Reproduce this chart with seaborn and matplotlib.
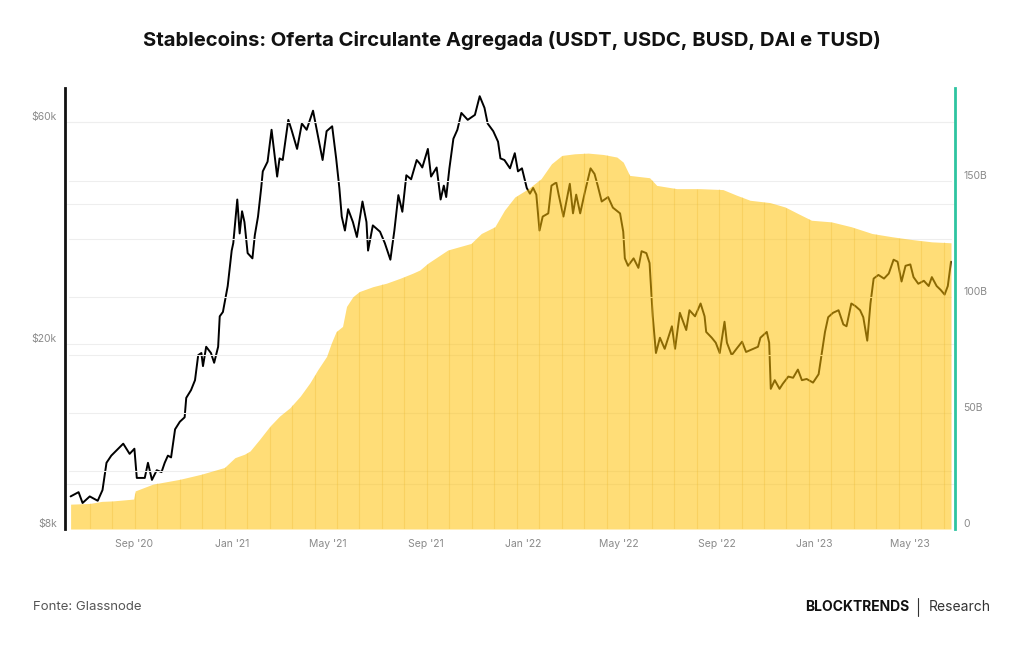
import pandas as pd
import numpy as np
import matplotlib
matplotlib.use('Agg')
import matplotlib.pyplot as plt
import matplotlib.dates as mdates
from matplotlib.ticker import FixedLocator, NullLocator, NullFormatter
import seaborn as sns

# BTC price (thousand USD)
price_dates = [
    '2020-06-13', '2020-06-23', '2020-06-28', '2020-07-07', '2020-07-17', '2020-07-23', '2020-07-28',
    '2020-08-03', '2020-08-18', '2020-08-26', '2020-09-01', '2020-09-04', '2020-09-14', '2020-09-18',
    '2020-09-23', '2020-09-29', '2020-10-05', '2020-10-09', '2020-10-13', '2020-10-17', '2020-10-22',
    '2020-10-28', '2020-11-03', '2020-11-05', '2020-11-11', '2020-11-16', '2020-11-20', '2020-11-24',
    '2020-11-26', '2020-11-30', '2020-12-06', '2020-12-10', '2020-12-15', '2020-12-17', '2020-12-21',
    '2020-12-27', '2021-01-01', '2021-01-03', '2021-01-08', '2021-01-11', '2021-01-14', '2021-01-17',
    '2021-01-21', '2021-01-27', '2021-01-30', '2021-02-03', '2021-02-07', '2021-02-09', '2021-02-15',
    '2021-02-20', '2021-02-27', '2021-03-02', '2021-03-06', '2021-03-13', '2021-03-17', '2021-03-24',
    '2021-03-30', '2021-04-05', '2021-04-13', '2021-04-18', '2021-04-25', '2021-04-30', '2021-05-07',
    '2021-05-12', '2021-05-16', '2021-05-19', '2021-05-23', '2021-05-27', '2021-06-02', '2021-06-07',
    '2021-06-14', '2021-06-19', '2021-06-21', '2021-06-27', '2021-07-06', '2021-07-12', '2021-07-19',
    '2021-07-24', '2021-07-29', '2021-08-03', '2021-08-08', '2021-08-14', '2021-08-21', '2021-08-25',
    '2021-08-28', '2021-09-04', '2021-09-08', '2021-09-15', '2021-09-20', '2021-09-24', '2021-09-27',
    '2021-10-01', '2021-10-06', '2021-10-11', '2021-10-16', '2021-10-24', '2021-11-02', '2021-11-08',
    '2021-11-14', '2021-11-18', '2021-11-25', '2021-12-01', '2021-12-04', '2021-12-09', '2021-12-16',
    '2021-12-22', '2021-12-26', '2021-12-31', '2022-01-06', '2022-01-10', '2022-01-14', '2022-01-18',
    '2022-01-22', '2022-01-26', '2022-02-02', '2022-02-06', '2022-02-12', '2022-02-15', '2022-02-21',
    '2022-03-01', '2022-03-05', '2022-03-09', '2022-03-14', '2022-03-20', '2022-03-27', '2022-04-01',
    '2022-04-05', '2022-04-10', '2022-04-18', '2022-04-24', '2022-05-03', '2022-05-07', '2022-05-09',
    '2022-05-13', '2022-05-20', '2022-05-26', '2022-05-30', '2022-06-05', '2022-06-09', '2022-06-13',
    '2022-06-17', '2022-06-22', '2022-06-28', '2022-07-07', '2022-07-11', '2022-07-17', '2022-07-25',
    '2022-07-29', '2022-08-05', '2022-08-12', '2022-08-17', '2022-08-19', '2022-08-26', '2022-08-31',
    '2022-09-05', '2022-09-11', '2022-09-14', '2022-09-20', '2022-09-26', '2022-10-03', '2022-10-08',
    '2022-10-17', '2022-10-23', '2022-10-26', '2022-11-03', '2022-11-06', '2022-11-08', '2022-11-13',
    '2022-11-19', '2022-11-23', '2022-11-30', '2022-12-06', '2022-12-12', '2022-12-17', '2022-12-23',
    '2022-12-31', '2023-01-07', '2023-01-11', '2023-01-15', '2023-01-19', '2023-01-25', '2023-02-01',
    '2023-02-07', '2023-02-11', '2023-02-17', '2023-02-22', '2023-02-28', '2023-03-04', '2023-03-09',
    '2023-03-13', '2023-03-17', '2023-03-23', '2023-03-30', '2023-04-05', '2023-04-11', '2023-04-16',
    '2023-04-21', '2023-04-26', '2023-05-02', '2023-05-06', '2023-05-12', '2023-05-19', '2023-05-25',
    '2023-05-29', '2023-06-04', '2023-06-09', '2023-06-14', '2023-06-18', '2023-06-22',
]
price_k = [
    9.4, 9.6, 9.1, 9.4, 9.2, 9.7, 11.1,
    11.5, 12.2, 11.6, 11.9, 10.3, 10.3, 11.1,
    10.2, 10.7, 10.6, 11.1, 11.5, 11.4, 13.1,
    13.6, 13.9, 15.3, 15.9, 16.7, 18.9, 19.1,
    17.9, 19.7, 19.1, 18.2, 19.7, 22.9, 23.4,
    26.6, 31.7, 32.9, 40.8, 34.5, 38.5, 36.5,
    31.3, 30.5, 34.2, 37.5, 43.2, 46.9, 49.2,
    57.6, 45.7, 50.0, 49.6, 60.5, 57.6, 52.4,
    59.4, 57.6, 63.3, 57.2, 49.6, 57.2, 58.6,
    50.0, 43.2, 37.5, 35.0, 38.9, 36.5, 33.9,
    40.4, 36.5, 31.7, 35.9, 34.8, 32.9, 30.3,
    35.0, 41.7, 38.4, 46.0, 45.1, 49.6, 48.7,
    47.8, 52.4, 45.7, 47.8, 40.8, 43.7, 41.3,
    47.6, 55.1, 57.6, 62.6, 60.5, 62.0, 68.0,
    64.2, 59.4, 57.2, 54.3, 50.0, 49.6, 47.6,
    51.3, 46.9, 47.6, 43.2, 42.0, 43.2, 41.8,
    35.0, 37.5, 38.1, 43.7, 44.4, 41.8, 37.5,
    44.1, 38.1, 41.8, 38.1, 42.4, 47.6, 46.3,
    43.7, 40.4, 41.3, 39.2, 38.1, 34.8, 30.5,
    29.4, 30.5, 29.1, 31.6, 31.3, 29.8, 22.9,
    19.1, 20.6, 19.5, 21.8, 19.5, 23.3, 21.4,
    23.6, 22.9, 24.4, 22.9, 21.2, 20.6, 20.1,
    19.1, 22.3, 20.1, 18.9, 19.5, 20.2, 19.2,
    19.5, 19.7, 20.6, 21.2, 20.1, 16.0, 16.7,
    16.0, 16.4, 17.0, 16.9, 17.6, 16.7, 16.8,
    16.5, 17.2, 19.1, 21.2, 22.8, 23.3, 23.6,
    22.0, 21.8, 24.4, 24.1, 23.6, 22.8, 20.3,
    24.4, 27.6, 28.1, 27.6, 28.3, 30.3, 30.0,
    27.2, 29.4, 29.6, 27.8, 26.9, 27.3, 26.6,
    27.8, 26.6, 26.1, 25.5, 26.6, 30.0,
]

# aggregated stablecoin supply (billion USD)
supply_dates = [
    '2020-06-13', '2020-07-07', '2020-07-22', '2020-08-05', '2020-08-31', '2020-09-02', '2020-09-24',
    '2020-10-28', '2020-11-24', '2020-12-23', '2021-01-05', '2021-01-17', '2021-01-24', '2021-02-05',
    '2021-02-18', '2021-03-02', '2021-03-15', '2021-03-28', '2021-04-09', '2021-04-19', '2021-04-30',
    '2021-05-06', '2021-05-12', '2021-05-20', '2021-05-25', '2021-06-02', '2021-06-10', '2021-06-27',
    '2021-07-14', '2021-07-31', '2021-08-16', '2021-08-25', '2021-09-04', '2021-09-29', '2021-10-28',
    '2021-11-10', '2021-11-27', '2021-12-09', '2021-12-22', '2022-01-08', '2022-01-24', '2022-02-06',
    '2022-02-19', '2022-03-07', '2022-03-24', '2022-04-12', '2022-04-29', '2022-05-07', '2022-05-15',
    '2022-06-09', '2022-06-18', '2022-07-13', '2022-08-11', '2022-09-09', '2022-09-26', '2022-10-13',
    '2022-11-07', '2022-11-26', '2022-12-12', '2022-12-29', '2023-01-23', '2023-02-17', '2023-03-15',
    '2023-04-09', '2023-05-04', '2023-05-29', '2023-06-22',
]
supply_b = [
    10.7, 11.0, 11.9, 12.1, 12.9, 16.4, 19.3,
    21.4, 23.6, 26.5, 30.7, 32.2, 33.6, 38.6,
    44.3, 48.6, 52.2, 57.2, 62.9, 68.6, 74.3,
    80.1, 85.0, 87.2, 95.8, 100.0, 102.2, 104.3,
    105.8, 107.9, 110.1, 111.5, 114.4, 120.1, 122.9,
    127.2, 130.1, 137.2, 142.9, 146.5, 150.8, 157.2,
    160.8, 161.5, 161.8, 161.2, 160.1, 157.9, 152.2,
    151.2, 147.9, 146.5, 146.5, 146.1, 143.7, 141.5,
    140.5, 138.6, 135.8, 132.9, 132.2, 130.1, 127.2,
    125.8, 124.6, 123.6, 123.2,
]

title = 'Stablecoins: Oferta Circulante Agregada (USDT, USDC, BUSD, DAI e TUSD)'

btc = pd.DataFrame({'date': pd.to_datetime(price_dates), 'price': np.array(price_k) * 1000})
stable = pd.DataFrame({'date': pd.to_datetime(supply_dates), 'supply': supply_b})

sns.set_theme(style='white')
plt.rcParams['font.family'] = ['Inter', 'DejaVu Sans']

fig = plt.figure(figsize=(10.24, 6.45), dpi=100)
ax = fig.add_axes([0.0635, 0.1798, 0.8691, 0.6837])

# BTC price, log scale, left
sns.lineplot(data=btc, x='date', y='price', color='black', linewidth=1.4, ax=ax)
ax.set_yscale('log')
ax.set_ylim(8000, 70800)
ax.yaxis.set_major_locator(FixedLocator([8000, 20000, 60000]))
ax.yaxis.set_minor_locator(NullLocator())
ax.yaxis.set_minor_formatter(NullFormatter())
ax.set_yticklabels(['$8k', '$20k', '$60k'])
for v in [10000, 20000, 40000, 60000]:
    ax.axhline(v, color='#eeeeee', lw=0.8, zorder=0)

# stablecoin supply, right
ax2 = ax.twinx()
ax2.fill_between(stable['date'], 0, stable['supply'], color='#FFC107', alpha=0.55, lw=0, zorder=2)
seams = pd.date_range('2020-07-07', '2023-06-13', periods=39)
seam_h = np.interp(mdates.date2num(seams), mdates.date2num(stable['date']), stable['supply'])
ax2.vlines(seams, 0, seam_h, color='#EDB830', lw=0.8, alpha=0.3, zorder=3)
for v in range(25, 190, 25):
    ax2.axhline(v, xmin=0.004, xmax=0.996, color='#eeeeee', lw=0.8, zorder=0)
ax2.set_ylim(0, 189.8)
ax2.yaxis.set_major_locator(FixedLocator([0, 50, 100, 150]))
ax2.set_yticklabels(['0', '50B', '100B', '150B'])

ax.set_xlim(pd.Timestamp('2020-06-06'), pd.Timestamp('2023-06-27'))
ax.xaxis.set_major_locator(mdates.MonthLocator(bymonth=[1, 5, 9]))
ax.xaxis.set_major_formatter(mdates.DateFormatter("%b '%y"))
ax.set_xlabel('')
ax.set_ylabel('')
ax2.set_ylabel('')

for a in (ax, ax2):
    for s in a.spines.values():
        s.set_visible(False)
    a.tick_params(length=0, labelsize=7.5, labelcolor='#8a8a8a', pad=6)
ax.spines['left'].set_visible(True)
ax.spines['left'].set_color('#111111')
ax.spines['left'].set_linewidth(2)
ax2.spines['right'].set_visible(True)
ax2.spines['right'].set_color('#2EC4A0')
ax2.spines['right'].set_linewidth(2)
ax.tick_params(axis='x', pad=7)

for lbl in ax.get_yticklabels() + ax2.get_yticklabels():
    lbl.set_verticalalignment('bottom')

fig.text(0.5, 1 - 40 / 645, title, ha='center', va='center', fontsize=14.6, fontweight='bold', color='#111111')
fig.text(33 / 1024, 1 - 607 / 645, 'Fonte: Glassnode', ha='left', va='center', fontsize=9.5, color='#555555')
fig.text(909 / 1024, 1 - 607 / 645, 'BLOCKTRENDS', ha='right', va='center', fontsize=10, fontweight='bold', color='#111111')
fig.add_artist(plt.Line2D([918 / 1024, 918 / 1024], [1 - 598 / 645, 1 - 616 / 645], color='#333333', lw=0.8))
fig.text(929 / 1024, 1 - 607 / 645, 'Research', ha='left', va='center', fontsize=10, color='#333333')

fig.savefig('out.png', dpi=100)
